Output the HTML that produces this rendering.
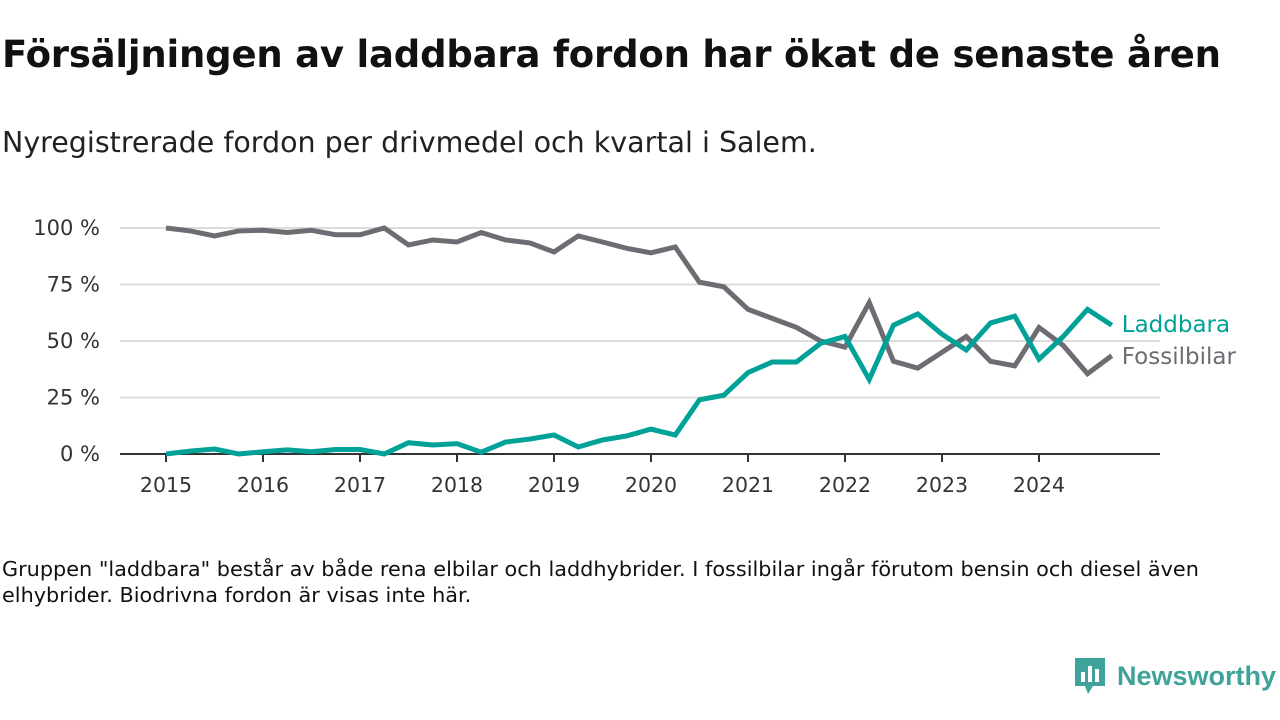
<!DOCTYPE html>
<html><head><meta charset="utf-8">
<style>
body{margin:0;width:1280px;height:720px;background:#fff;font-family:"DejaVu Sans","Liberation Sans",sans-serif;position:relative;overflow:hidden;color:#111}
h1{position:absolute;left:2px;top:33px;margin:0;font-size:37px;font-weight:bold;letter-spacing:-0.2px;white-space:nowrap}
.sub{position:absolute;left:2px;top:126px;font-size:28.5px;color:#222;white-space:nowrap}
.note{position:absolute;left:2px;top:556px;font-size:20.8px;line-height:26px;color:#111;width:1240px}
.logo{position:absolute;left:1073px;top:656px;display:flex;align-items:center;gap:10px}
.logo span{font-family:"Liberation Sans",sans-serif;font-size:27px;font-weight:bold;color:#3fa39a}
</style></head><body>
<h1>Försäljningen av laddbara fordon har ökat de senaste åren</h1>
<div class="sub">Nyregistrerade fordon per drivmedel och kvartal i Salem.</div>
<svg id="chart" width="1280" height="720" style="position:absolute;left:0;top:0"></svg>
<div class="note">Gruppen "laddbara" består av både rena elbilar och laddhybrider. I fossilbilar ingår förutom bensin och diesel även elhybrider. Biodrivna fordon är visas inte här.</div>
<div class="logo">
<svg width="34" height="40" viewBox="0 0 34 40"><path d="M2 2h30v28H20l-5 8-3-8H2z" fill="#3fa39a"/><rect x="8" y="16" width="4" height="10" fill="#fff"/><rect x="15" y="10" width="4" height="16" fill="#fff"/><rect x="22" y="13" width="4" height="13" fill="#fff"/></svg>
<span>Newsworthy</span></div>
<script>
const years=[2015,2016,2017,2018,2019,2020,2021,2022,2023,2024];
const yTicks=[0,25,50,75,100];
const fossil=[100,98.7,96.5,98.7,99,98,99,97,97,100,92.5,94.7,93.8,98,94.7,93.4,89.4,96.5,93.8,91,89,91.6,76,74,64,60,56,50,47.3,67,41,38,45,52,41,39,56,48,35.5,43.5];
const laddbara=[0,1.3,2.2,0,1,1.8,1,2,2,0,5,4,4.6,0.8,5.3,6.6,8.4,3.1,6.2,8,11,8.4,24,26,36,40.7,40.7,49,52,33,57,62,53,46,58,61,42,52,64,57];
const NS="http://www.w3.org/2000/svg";
const svg=document.getElementById('chart');
const FF='DejaVu Sans, Liberation Sans, sans-serif';
const x0=166,yearW=97,yb=454,yt=228,xr=1160;
const X=i=>x0+i*yearW/4;
const Y=v=>yb-(yb-yt)*v/100;
function mk(t,a){const e=document.createElementNS(NS,t);for(const k in a)e.setAttribute(k,a[k]);svg.appendChild(e);return e;}
yTicks.forEach(v=>{
 if(v>0){const g=mk('line',{x1:120,x2:xr,y1:Y(v),y2:Y(v),stroke:'#dcdcdc','stroke-width':2});
 
 }
 const t=mk('text',{x:100,y:Y(v)+7,'text-anchor':'end','font-size':21,fill:'#333','font-family':FF});
 t.textContent=v+' %';
 
 
});
const ax=mk('line',{x1:120,x2:xr,y1:yb,y2:yb,stroke:'#333','stroke-width':2});


years.forEach((yr,i)=>{
 const xx=X(i*4);
 const tk=mk('line',{x1:xx,x2:xx,y1:yb,y2:yb+8,stroke:'#333','stroke-width':2});
 
 
 const t=mk('text',{x:xx,y:yb+38,'text-anchor':'middle','font-size':20.5,fill:'#333','font-family':FF});
 t.textContent=yr;
 
 
});
function series(d,c,name,label,ly){
 const p=mk('polyline',{points:d.map((v,i)=>X(i)+','+Y(v)).join(' '),fill:'none',stroke:c,'stroke-width':5,'stroke-linejoin':'miter'});
 
 
 const t=mk('text',{x:X(d.length-1)+10,y:ly,'font-size':23,fill:c,'font-family':FF});
 t.textContent=label;
 
 
}
series(fossil,'#6d6c72','fossilbilar-line','Fossilbilar',364);
series(laddbara,'#00a298','laddbara-line','Laddbara',332);
</script>
</body></html>
